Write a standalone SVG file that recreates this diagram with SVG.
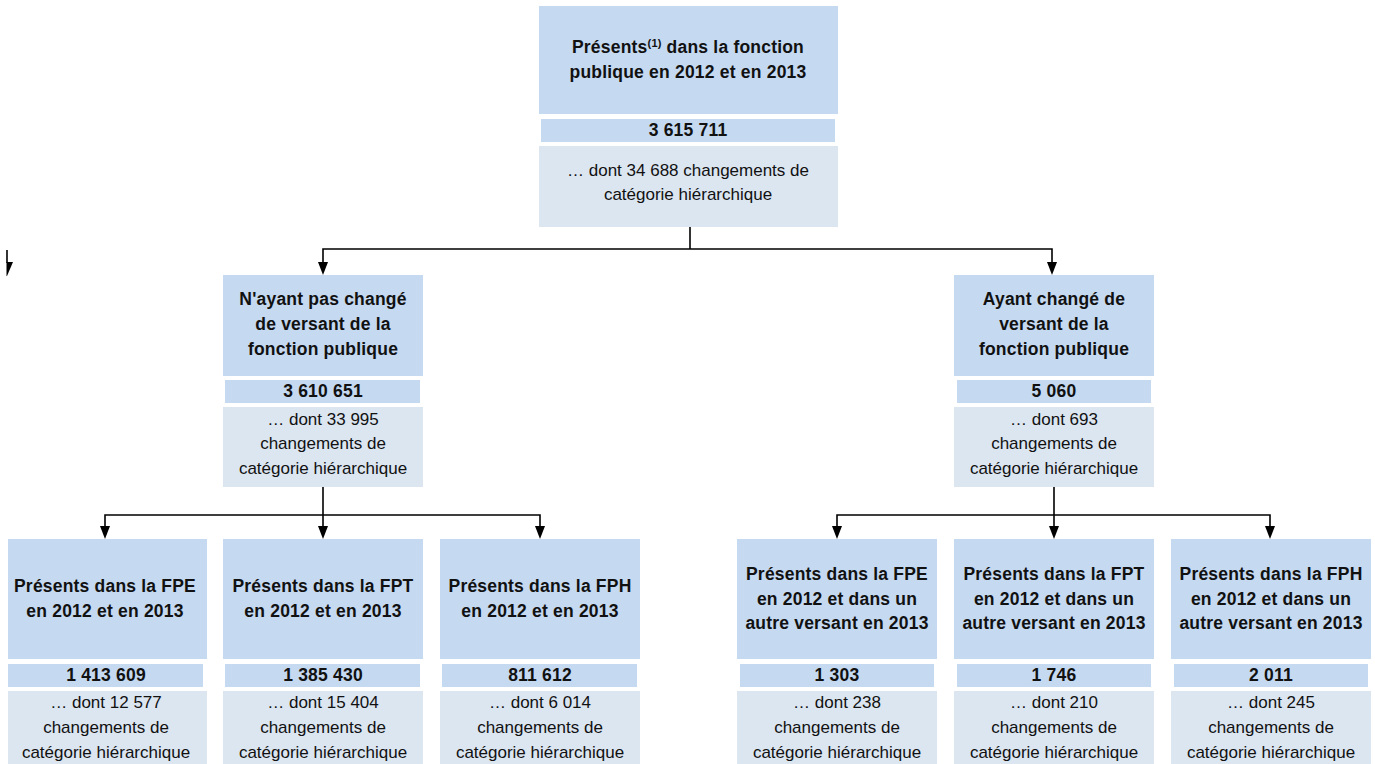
<svg xmlns="http://www.w3.org/2000/svg" width="1375" height="764" viewBox="0 0 1375 764">
<defs>
<style>
.m{fill:#C5D9F1}
.s{fill:#DCE6F1}
.b{font-family:"Liberation Sans",Arial,sans-serif;font-weight:bold;font-size:17.5px;letter-spacing:0.2px;fill:#111;text-anchor:middle}
.r{font-family:"Liberation Sans",Arial,sans-serif;font-size:17px;fill:#111;text-anchor:middle}
.c{fill:none;stroke:#000;stroke-width:1.6}
</style>
</defs>
<rect width="1375" height="764" fill="#fff"/>

<g id="connectors">
<path class="c" d="M690,227 V249"/>
<path class="c" d="M323,262 V249 H1052 V262"/>
<polygon points="318,262 328,262 323,275" fill="#000"/>
<polygon points="1047,262 1057,262 1052,275" fill="#000"/>
<path class="c" d="M323,487 V526"/>
<path class="c" d="M105,526 V515 H540 V526"/>
<polygon points="100,526 110,526 105,539" fill="#000"/>
<polygon points="318,526 328,526 323,539" fill="#000"/>
<polygon points="535,526 545,526 540,539" fill="#000"/>
<path class="c" d="M1054,487 V526"/>
<path class="c" d="M837,526 V515 H1270 V526"/>
<polygon points="832,526 842,526 837,539" fill="#000"/>
<polygon points="1049,526 1059,526 1054,539" fill="#000"/>
<polygon points="1265,526 1275,526 1270,539" fill="#000"/>
<path class="c" d="M7,250 V263"/>
<polygon points="6.5,262 13,262 7,276 6.5,276" fill="#000"/>
</g>

<g id="root">
<rect class="m" x="539" y="6" width="299" height="108"/>
<text class="b" x="688" y="53">Présents<tspan font-size="11" dy="-6">(1)</tspan><tspan dy="6"> dans la fonction</tspan></text>
<text class="b" x="688" y="78">publique en 2012 et en 2013</text>
<rect class="m" x="541" y="119" width="294" height="23"/>
<text class="b" x="688" y="136">3 615 711</text>
<rect class="s" x="539" y="146" width="299" height="81"/>
<text class="r" x="688" y="176">… dont 34 688 changements de</text>
<text class="r" x="688" y="200">catégorie hiérarchique</text>
</g>

<g id="nonchange">
<rect class="m" x="223" y="275" width="200" height="101"/>
<text class="b" x="323" y="305">N'ayant pas changé</text>
<text class="b" x="323" y="330">de versant de la</text>
<text class="b" x="323" y="355">fonction publique</text>
<rect class="m" x="225" y="380" width="195" height="23"/>
<text class="b" x="323" y="397">3 610 651</text>
<rect class="s" x="223" y="407" width="200" height="80"/>
<text class="r" x="323" y="425">… dont 33 995</text>
<text class="r" x="323" y="449">changements de</text>
<text class="r" x="323" y="474">catégorie hiérarchique</text>
</g>

<g id="change">
<rect class="m" x="954" y="275" width="200" height="101"/>
<text class="b" x="1054" y="305">Ayant changé de</text>
<text class="b" x="1054" y="330">versant de la</text>
<text class="b" x="1054" y="355">fonction publique</text>
<rect class="m" x="957" y="380" width="194" height="23"/>
<text class="b" x="1054" y="397">5 060</text>
<rect class="s" x="954" y="407" width="200" height="80"/>
<text class="r" x="1054" y="425">… dont 693</text>
<text class="r" x="1054" y="449">changements de</text>
<text class="r" x="1054" y="474">catégorie hiérarchique</text>
</g>

<g id="fpe">
<rect class="m" x="8" y="539" width="199" height="120"/>
<text class="b" x="105" y="592">Présents dans la FPE</text>
<text class="b" x="105" y="617">en 2012 et en 2013</text>
<rect class="m" x="8" y="664" width="195" height="23"/>
<text class="b" x="106" y="681">1 413 609</text>
<rect class="s" x="8" y="691" width="199" height="73"/>
<text class="r" x="106" y="708">… dont 12 577</text>
<text class="r" x="106" y="733">changements de</text>
<text class="r" x="106" y="758">catégorie hiérarchique</text>
</g>

<g id="fpt">
<rect class="m" x="223" y="539" width="200" height="120"/>
<text class="b" x="323" y="592">Présents dans la FPT</text>
<text class="b" x="323" y="617">en 2012 et en 2013</text>
<rect class="m" x="225" y="664" width="195" height="23"/>
<text class="b" x="323" y="681">1 385 430</text>
<rect class="s" x="223" y="691" width="200" height="73"/>
<text class="r" x="323" y="708">… dont 15 404</text>
<text class="r" x="323" y="733">changements de</text>
<text class="r" x="323" y="758">catégorie hiérarchique</text>
</g>

<g id="fph">
<rect class="m" x="440" y="539" width="200" height="120"/>
<text class="b" x="540" y="592">Présents dans la FPH</text>
<text class="b" x="540" y="617">en 2012 et en 2013</text>
<rect class="m" x="442" y="664" width="195" height="23"/>
<text class="b" x="540" y="681">811 612</text>
<rect class="s" x="440" y="691" width="200" height="73"/>
<text class="r" x="540" y="708">… dont 6 014</text>
<text class="r" x="540" y="733">changements de</text>
<text class="r" x="540" y="758">catégorie hiérarchique</text>
</g>

<g id="fpe-autre">
<rect class="m" x="737" y="539" width="200" height="120"/>
<text class="b" x="837" y="580">Présents dans la FPE</text>
<text class="b" x="837" y="605">en 2012 et dans un</text>
<text class="b" x="837" y="629">autre versant en 2013</text>
<rect class="m" x="740" y="664" width="194" height="23"/>
<text class="b" x="837" y="681">1 303</text>
<rect class="s" x="737" y="691" width="200" height="73"/>
<text class="r" x="837" y="708">… dont 238</text>
<text class="r" x="837" y="733">changements de</text>
<text class="r" x="837" y="758">catégorie hiérarchique</text>
</g>

<g id="fpt-autre">
<rect class="m" x="954" y="539" width="200" height="120"/>
<text class="b" x="1054" y="580">Présents dans la FPT</text>
<text class="b" x="1054" y="605">en 2012 et dans un</text>
<text class="b" x="1054" y="629">autre versant en 2013</text>
<rect class="m" x="957" y="664" width="194" height="23"/>
<text class="b" x="1054" y="681">1 746</text>
<rect class="s" x="954" y="691" width="200" height="73"/>
<text class="r" x="1054" y="708">… dont 210</text>
<text class="r" x="1054" y="733">changements de</text>
<text class="r" x="1054" y="758">catégorie hiérarchique</text>
</g>

<g id="fph-autre">
<rect class="m" x="1171" y="539" width="200" height="120"/>
<text class="b" x="1271" y="580">Présents dans la FPH</text>
<text class="b" x="1271" y="605">en 2012 et dans un</text>
<text class="b" x="1271" y="629">autre versant en 2013</text>
<rect class="m" x="1174" y="664" width="194" height="23"/>
<text class="b" x="1271" y="681">2 011</text>
<rect class="s" x="1171" y="691" width="200" height="73"/>
<text class="r" x="1271" y="708">… dont 245</text>
<text class="r" x="1271" y="733">changements de</text>
<text class="r" x="1271" y="758">catégorie hiérarchique</text>
</g>
</svg>
